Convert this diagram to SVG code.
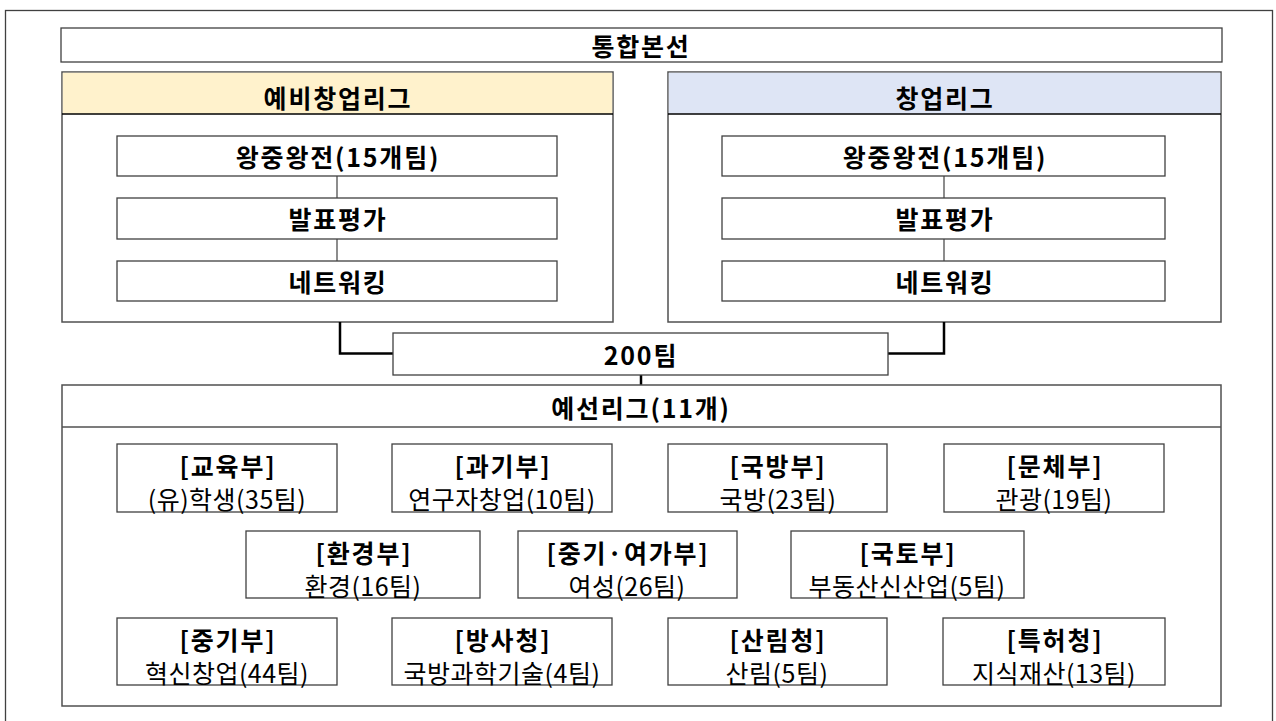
<svg xmlns="http://www.w3.org/2000/svg" width="1276" height="721" viewBox="0 0 1276 721">
<style>
.bx{fill:#fff;stroke:#404040;stroke-width:1.3}
.fr{fill:#fff;stroke:#505050;stroke-width:1.5}
.t{font-family:"Noto Sans CJK KR","Noto Sans",sans-serif;font-size:25px;letter-spacing:0.5px;fill:#000;text-anchor:middle;dominant-baseline:central}
.b{font-weight:bold;font-size:25px;letter-spacing:1.8px}
.thin{stroke:#404040;stroke-width:1.2;fill:none}
.thick{stroke:#000;stroke-width:2.5;fill:none}
</style>
<rect x="0" y="0" width="1276" height="721" fill="#fff"/>
<rect x="5.5" y="10.5" width="1267" height="720" fill="none" stroke="#404040" stroke-width="1.3"/>

<g id="final">
<rect class="bx" x="61" y="28" width="1161" height="34"/>
<text class="t b" x="641" y="45">통합본선</text>
</g>

<g id="pre-league">
<rect class="fr" x="62" y="72" width="551" height="250"/>
<rect x="62.75" y="72.75" width="549.5" height="41" fill="#FFF2CC"/>
<line x1="62" y1="114" x2="613" y2="114" stroke="#000" stroke-width="1.5"/>
<text class="t b" x="338" y="97">예비창업리그</text>
</g>
<g id="pre-1"><rect class="bx" x="117" y="136" width="440" height="40"/><text class="t b" x="338" y="156">왕중왕전(15개팀)</text></g>
<g id="pre-2"><rect class="bx" x="117" y="198" width="440" height="41"/><text class="t b" x="338" y="218">발표평가</text></g>
<g id="pre-3"><rect class="bx" x="117" y="261" width="440" height="40"/><text class="t b" x="338" y="281">네트워킹</text></g>

<g id="startup-league">
<rect class="fr" x="668" y="72" width="553" height="250"/>
<rect x="668.75" y="72.75" width="551.5" height="41" fill="#DEE5F5"/>
<line x1="668" y1="114" x2="1221" y2="114" stroke="#000" stroke-width="1.5"/>
<text class="t b" x="945" y="97">창업리그</text>
</g>
<g id="st-1"><rect class="bx" x="722" y="136" width="443" height="40"/><text class="t b" x="945" y="156">왕중왕전(15개팀)</text></g>
<g id="st-2"><rect class="bx" x="722" y="198" width="443" height="41"/><text class="t b" x="945" y="218">발표평가</text></g>
<g id="st-3"><rect class="bx" x="722" y="261" width="443" height="40"/><text class="t b" x="945" y="281">네트워킹</text></g>

<g id="connectors">
<line class="thin" x1="337" y1="176" x2="337" y2="198"/>
<line class="thin" x1="337" y1="239" x2="337" y2="261"/>
<line class="thin" x1="944" y1="176" x2="944" y2="198"/>
<line class="thin" x1="944" y1="239" x2="944" y2="261"/>
<polyline class="thick" points="340,322 340,353.5 393,353.5"/>
<polyline class="thick" points="944,322 944,353.5 888,353.5"/>
<line class="thick" x1="641" y1="375" x2="641" y2="385"/>
</g>

<g id="teams200">
<rect class="bx" x="393" y="333" width="495" height="42"/>
<text class="t b" x="641" y="354">200팀</text>
</g>

<g id="prelim">
<rect class="fr" x="62" y="385" width="1159" height="321"/>
<line x1="62" y1="427" x2="1221" y2="427" stroke="#505050" stroke-width="1.5"/>
<text class="t b" x="641" y="407">예선리그(11개)</text>
</g>

<g id="n1"><rect class="bx" x="117" y="444" width="220" height="68"/><text class="t b" x="228" y="465">[교육부]</text><text class="t" x="227" y="498">(유)학생(35팀)</text></g>
<g id="n2"><rect class="bx" x="392" y="444" width="220" height="68"/><text class="t b" x="503" y="465">[과기부]</text><text class="t" x="502" y="498">연구자창업(10팀)</text></g>
<g id="n3"><rect class="bx" x="668" y="444" width="219" height="68"/><text class="t b" x="778" y="465">[국방부]</text><text class="t" x="778" y="498">국방(23팀)</text></g>
<g id="n4"><rect class="bx" x="944" y="444" width="220" height="68"/><text class="t b" x="1055" y="465">[문체부]</text><text class="t" x="1054" y="498">관광(19팀)</text></g>

<g id="n5"><rect class="bx" x="246" y="531" width="234" height="67"/><text class="t b" x="364" y="552">[환경부]</text><text class="t" x="363" y="585">환경(16팀)</text></g>
<g id="n6"><rect class="bx" x="518" y="531" width="219" height="67"/><text class="t b" x="628" y="552">[중기·여가부]</text><text class="t" x="627" y="585">여성(26팀)</text></g>
<g id="n7"><rect class="bx" x="791" y="531" width="233" height="67"/><text class="t b" x="908" y="552">[국토부]</text><text class="t" x="907" y="585">부동산신산업(5팀)</text></g>

<g id="n8"><rect class="bx" x="117" y="618" width="220" height="67"/><text class="t b" x="228" y="639">[중기부]</text><text class="t" x="227" y="672">혁신창업(44팀)</text></g>
<g id="n9"><rect class="bx" x="392" y="618" width="220" height="67"/><text class="t b" x="503" y="639">[방사청]</text><text class="t" x="502" y="672">국방과학기술(4팀)</text></g>
<g id="n10"><rect class="bx" x="668" y="618" width="219" height="67"/><text class="t b" x="778" y="639">[산림청]</text><text class="t" x="777" y="672">산림(5팀)</text></g>
<g id="n11"><rect class="bx" x="943" y="618" width="222" height="67"/><text class="t b" x="1055" y="639">[특허청]</text><text class="t" x="1054" y="672">지식재산(13팀)</text></g>
</svg>
